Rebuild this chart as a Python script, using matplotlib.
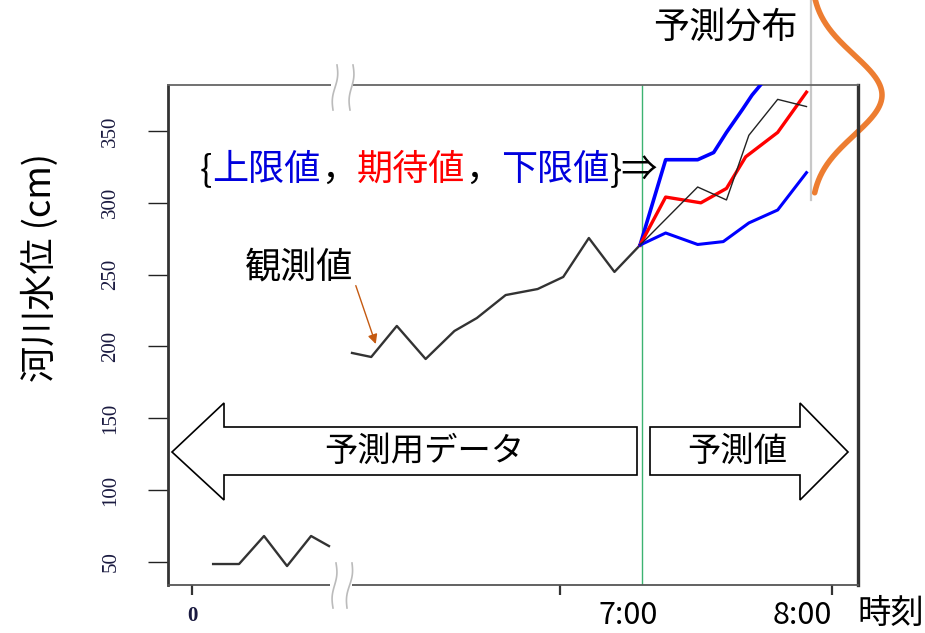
import numpy as np
import matplotlib.pyplot as plt
from matplotlib.offsetbox import TextArea, HPacker, AnnotationBbox
from matplotlib.patches import Polygon, Rectangle
from matplotlib.lines import Line2D

plt.rcParams['font.family'] = ['Noto Sans CJK JP', 'DejaVu Sans']

W, H = 925, 633

# observed water level before the axis break (x in minutes from the left tick)
early_x = [6.6, 14.7, 22.5, 29.7, 37.2, 42.8]
early_y = [48.6, 48.6, 68.1, 47.2, 68.1, 61.1]
# observed water level up to 7:00
obs_x = [50, 56, 64, 73, 82, 89, 98, 108, 116, 124, 132, 140]
obs_y = [195.5, 192.7, 214.3, 191.3, 210.8, 219.8, 235.8, 240.0, 248.4, 275.5, 251.9, 270.6]
# what was observed after 7:00
after_x = [140, 158, 167, 174, 183, 192]
after_y = [270.6, 311, 302, 347, 372, 367]
# forecast: upper bound, expected value, lower bound
upper_x = [140, 148, 158, 163, 167, 172, 175, 178, 184, 192]
upper_y = [270.6, 330, 330, 335, 349, 365, 375, 383, 400, 425]
mean_x = [140, 148, 159, 167, 173, 183, 192]
mean_y = [270.6, 304, 300, 310, 332, 349, 377]
lower_x = [140, 148, 158, 166, 174, 183, 192]
lower_y = [270.6, 279, 271, 273, 286, 295, 321]

now_x = 140.5          # 7:00
dist_x = 193.4         # where the forecast distribution is drawn
dist_mean, dist_sd = 375, 28
dist_width = 22.2

yticks = [50, 100, 150, 200, 250, 300, 350]
xticks = [0, 115, 200]
xtick_labels = ['0', '', '']


def fp(x, y):
    # figure pixel -> figure fraction
    return (x / W, 1 - y / H)


fig = plt.figure(figsize=(W / 100, H / 100), dpi=100)
fig.patch.set_facecolor('white')
ax = fig.add_axes([168 / W, 1 - 585 / H, 690 / W, 500 / H])
ax.set_xlim(-7.5, 208.1)
ax.set_ylim(34, 382)

# spines
for side, col, lw in [('left', '#333333', 2.0), ('right', '#333333', 2.4),
                      ('top', '#666666', 1.3), ('bottom', '#555555', 1.3)]:
    ax.spines[side].set_color(col)
    ax.spines[side].set_linewidth(lw)

ax.set_yticks(yticks)
ax.set_xticks(xticks, xtick_labels)
ax.tick_params(axis='y', length=14.4, width=1.0, color='#222222', pad=20,
               labelsize=15, labelcolor='#1a1a40', labelrotation=90)
ax.tick_params(axis='x', length=7.2, width=1.6, color='#333333', pad=8,
               labelsize=15, labelcolor='#1a1a40')
for lab in ax.get_yticklabels():
    lab.set_va('center')
    lab.set_family('Liberation Serif')
for lab in ax.get_xticklabels():
    lab.set_family('Liberation Serif')
    lab.set_fontweight('bold')

# 7:00 line
ax.axvline(now_x, color='#3CB371', lw=1.0, zorder=1)

# lines
ax.plot(early_x, early_y, color='#333333', lw=1.7)
ax.plot(obs_x, obs_y, color='#333333', lw=1.7)
ax.plot(after_x, after_y, color='#222222', lw=1.0, zorder=4)
ax.plot(upper_x, upper_y, color='#0000FF', lw=2.6, zorder=3)
ax.plot(mean_x, mean_y, color='#FF0000', lw=2.4, zorder=3)
ax.plot(lower_x, lower_y, color='#0000FF', lw=2.2, zorder=3)

# forecast distribution at 8:00
ax.plot([dist_x, dist_x], [302, 445], color='#C8C8C8', lw=1.6, clip_on=False)
ys = np.linspace(307, 445, 300)
xs = dist_x + dist_width * np.exp(-0.5 * ((ys - dist_mean) / dist_sd) ** 2)
ax.plot(xs, ys, color='#ED7D31', lw=4, clip_on=False, solid_capstyle='round')

# block arrows
left_arrow = [(172, 452), (224, 403), (224, 427), (637, 427), (637, 475), (224, 475), (224, 500)]
right_arrow = [(650, 427), (800, 427), (800, 403), (848, 452), (800, 500), (800, 475), (650, 475)]
for pts in (left_arrow, right_arrow):
    fig.add_artist(Polygon([fp(*p) for p in pts], closed=True, transform=fig.transFigure,
                           facecolor='white', edgecolor='black', lw=1.2, zorder=3))
fig.text(*fp(424, 451), '予測用データ', fontsize=24, ha='center', va='center', zorder=4)
fig.text(*fp(737, 451), '予測値', fontsize=24, ha='center', va='center', zorder=4)


# axis break marks
def draw_break(xl0, xl1, xr0, xr1, y0, y1, mask_y):
    fig.add_artist(Rectangle(fp(xl0 - 6, mask_y + 6), (xr0 - xl0 + 6) / W, 12 / H,
                             transform=fig.transFigure, facecolor='white',
                             edgecolor='none', zorder=5))
    t = np.linspace(0, 1, 40)
    for a, b in ((xl0, xl1), (xr0, xr1)):
        px = a + (b - a) * t + 1.6 * np.sin(2 * np.pi * t)
        py = y0 + (y1 - y0) * t
        fig.add_artist(Line2D(px / W, 1 - py / H, transform=fig.transFigure,
                              color='#BBBBBB', lw=1.2, zorder=6))


draw_break(337, 333, 353, 350, 65, 110, 85)
draw_break(336, 333, 352, 347, 563, 608, 585)

# texts
fig.text(*fp(40, 267), '河川水位 (cm)', fontsize=26, rotation=90, ha='center', va='center')
fig.text(*fp(725, 28), '予測分布', fontsize=26, ha='center', va='center')
fig.text(*fp(628, 615), '7:00', fontsize=22, ha='center', va='center')
fig.text(*fp(802, 615), '8:00', fontsize=22, ha='center', va='center')
fig.text(*fp(891, 613), '時刻', fontsize=24, ha='center', va='center')

fig.text(*fp(299, 267), '観測値', fontsize=26, ha='center', va='center')
ax.annotate('', xy=(57.7, 199.9), xytext=(50.9, 244.2),
            arrowprops=dict(arrowstyle='-|>', color='#C55A11', lw=1.0, mutation_scale=14))

parts = [('{', 'black'), ('上限値', '#0000DD'), ('，', 'black'), ('期待値', '#FF0000'),
         ('，', 'black'), ('下限値', '#0000DD'), ('}⇒', 'black')]
boxes = [TextArea(s, textprops=dict(color=c, fontsize=26)) for s, c in parts]
pack = HPacker(children=boxes, align='baseline', pad=0, sep=0)
ab = AnnotationBbox(pack, fp(200, 170), xycoords='figure fraction', box_alignment=(0, 0.5),
                    frameon=False, pad=0, annotation_clip=False)
ax.add_artist(ab)

fig.savefig('out.png', dpi=100, facecolor='white')
